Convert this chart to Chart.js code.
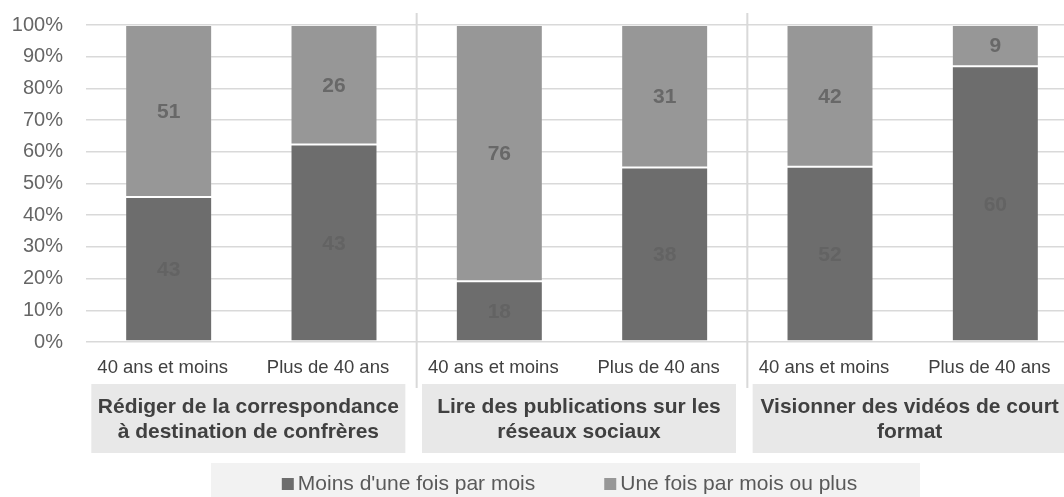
<!DOCTYPE html>
<html>
<head>
<meta charset="utf-8">
<script src="https://cdn.jsdelivr.net/npm/chart.js@4/dist/chart.umd.min.js"></script>
<style>
  html, body { margin: 0; padding: 0; background: #ffffff; overflow: hidden; }
  #wrap { width: 1090px; height: 497px; position: relative; }
</style>
</head>
<body>
<div id="wrap"><canvas id="chart" width="1090" height="497"></canvas></div>
<script>
// Age bands (one bar each), grouped by activity
const ageBands = ['40 ans et moins', 'Plus de 40 ans', '40 ans et moins', 'Plus de 40 ans', '40 ans et moins', 'Plus de 40 ans'];
const activities = [
  ['Rédiger de la correspondance', 'à destination de confrères'],
  ['Lire des publications sur les', 'réseaux sociaux'],
  ['Visionner des vidéos de court', 'format']
];
const seriesNames = ["Moins d'une fois par mois", 'Une fois par mois ou plus'];

// Respondent counts per bar
const lessThanMonthly = [43, 43, 18, 38, 52, 60];
const monthlyOrMore   = [51, 26, 76, 31, 42, 9];

// Axis ticks
const yTickValues = [0, 10, 20, 30, 40, 50, 60, 70, 80, 90, 100];

const FONT = '"Liberation Sans", Arial, sans-serif';
const DARK = '#6d6d6d';
const LIGHT = '#979797';

// 100% stacked shares
const share = (part, i) => part[i] / (lessThanMonthly[i] + monthlyOrMore[i]) * 100;
const lessShare = lessThanMonthly.map((v, i) => share(lessThanMonthly, i));
const moreShare = monthlyOrMore.map((v, i) => share(monthlyOrMore, i));
const counts = [lessThanMonthly, monthlyOrMore];

const decorations = {
  id: 'decorations',
  beforeDatasetsDraw(chart) {
    const { ctx } = chart;
    const x = chart.scales.x;
    ctx.save();
    ctx.strokeStyle = '#d9d9d9';
    ctx.lineWidth = 2;
    for (let g = 1; g < activities.length; g++) {
      const sx = (x.getPixelForValue(g * 2 - 1) + x.getPixelForValue(g * 2)) / 2;
      ctx.beginPath();
      ctx.moveTo(sx, 13);
      ctx.lineTo(sx, 388);
      ctx.stroke();
    }
    ctx.restore();
  },
  afterDatasetsDraw(chart) {
    const { ctx } = chart;
    ctx.save();
    ctx.font = 'bold 21px ' + FONT;
    ctx.textAlign = 'center';
    ctx.textBaseline = 'middle';
    chart.data.datasets.forEach((ds, di) => {
      const meta = chart.getDatasetMeta(di);
      meta.data.forEach((bar, i) => {
        const cy = (bar.y + bar.base) / 2;
        ctx.fillStyle = di === 0 ? '#636363' : '#686868';
        ctx.fillText(String(counts[di][i]), bar.x, cy + 1);
      });
    });
    ctx.restore();
  },
  afterDraw(chart) {
    const { ctx } = chart;
    const x = chart.scales.x;
    ctx.save();
    // activity boxes under each pair of bars
    activities.forEach((lines, g) => {
      const cx = (x.getPixelForValue(g * 2) + x.getPixelForValue(g * 2 + 1)) / 2 - 3;
      const w = 314, top = 384, h = 69;
      ctx.fillStyle = '#e8e8e8';
      ctx.fillRect(cx - w / 2, top, w, h);
      ctx.fillStyle = '#404040';
      ctx.font = 'bold 21px ' + FONT;
      ctx.textAlign = 'center';
      ctx.textBaseline = 'middle';
      const mid = top + h / 2;
      ctx.fillText(lines[0], cx, mid - 11.5);
      ctx.fillText(lines[1], cx, mid + 13.5);
    });
    // legend
    const boxL = 211, boxR = 920, boxT = 463;
    ctx.fillStyle = '#f2f2f2';
    ctx.fillRect(boxL, boxT, boxR - boxL, chart.height - boxT);
    ctx.font = '21px ' + FONT;
    ctx.textBaseline = 'middle';
    ctx.textAlign = 'left';
    const sq = 12, gap = 4, itemGap = 69;
    const widths = seriesNames.map(n => ctx.measureText(n).width);
    const total = widths.reduce((a, w) => a + sq + gap + w, 0) + itemGap * (seriesNames.length - 1);
    let lx = (boxL + boxR) / 2 + 4 - total / 2;
    const ly = 484;
    seriesNames.forEach((name, i) => {
      ctx.fillStyle = chart.data.datasets[i].backgroundColor;
      ctx.fillRect(lx, ly - 6, sq, sq);
      ctx.fillStyle = '#595959';
      ctx.fillText(name, lx + sq + gap, ly);
      lx += sq + gap + widths[i] + itemGap;
    });
    ctx.restore();
  }
};

new Chart(document.getElementById('chart'), {
  type: 'bar',
  data: {
    labels: ageBands,
    datasets: [
      { label: seriesNames[0], data: lessShare, backgroundColor: DARK,
        borderColor: 'rgba(255,255,255,0.14)', borderWidth: 1, borderSkipped: false },
      { label: seriesNames[1], data: moreShare, backgroundColor: LIGHT,
        borderColor: 'rgba(255,255,255,0.14)', borderWidth: 1, borderSkipped: false }
    ]
  },
  options: {
    responsive: false,
    animation: false,
    devicePixelRatio: 1,
    layout: { padding: { top: 25, right: 12, bottom: 0, left: 0 } },
    datasets: { bar: { categoryPercentage: 1, barPercentage: 0.526 } },
    plugins: { legend: { display: false }, tooltip: { enabled: false } },
    scales: {
      x: {
        stacked: true,
        grid: { display: false },
        border: { display: false },
        ticks: {
          color: '#404040',
          font: { family: FONT, size: 18.5 },
          padding: 7,
          labelOffset: -6,
          maxRotation: 0,
          autoSkip: false
        },
        afterFit(scale) { scale.height = 155; }
      },
      y: {
        stacked: true,
        min: 0,
        max: 100,
        afterBuildTicks(scale) { scale.ticks = yTickValues.map(v => ({ value: v })); },
        grid: { color: '#d9d9d9', lineWidth: 1.5, drawTicks: false },
        border: { display: false },
        ticks: {
          color: '#666666',
          font: { family: FONT, size: 20 },
          padding: 23,
          callback: v => v + '%'
        },
        afterFit(scale) {
          scale.width = 86;
          scale.paddingTop = 0;
          scale.paddingBottom = 0;
        }
      }
    }
  },
  plugins: [decorations]
});
</script>
</body>
</html>
